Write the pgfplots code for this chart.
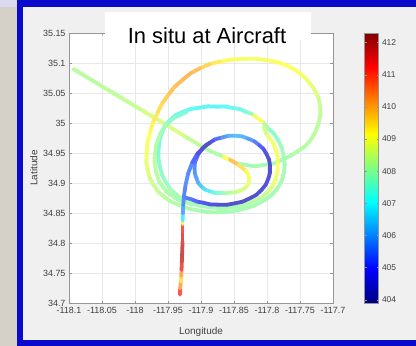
\documentclass[border=0pt]{standalone}
\usepackage{fontspec}
\setmainfont{Liberation Sans}
\usepackage{pgfplots}
\usepackage{pgfplotstable}
\pgfplotsset{compat=1.18}

\definecolor{frameblue}{RGB}{10,10,205}
\definecolor{panel}{RGB}{240,240,240}
\definecolor{stone}{RGB}{214,209,200}
\definecolor{ticktext}{RGB}{64,64,64}
\definecolor{axisgray}{RGB}{150,150,150}

% a paler jet, used for the track itself
\pgfplotsset{colormap={lightjet}{rgb255(0cm)=(80,80,170) rgb255(1cm)=(85,85,255)
  rgb255(3cm)=(95,250,250) rgb255(5cm)=(255,255,95) rgb255(7cm)=(255,80,80)
  rgb255(8cm)=(170,80,80)}}
\pgfplotsset{track/.style={mesh, colormap name=lightjet, point meta=explicit,
  line width=3.8pt, line cap=round}}

% flight track: longitude, latitude, in situ CO2 (ppm)
\pgfplotstableread{
lon lat v
-118.0934 35.0900 408.2
-118.0581 35.0667 408.3
-118.0228 35.0433 408.3
-117.9875 35.0200 408.5
-117.9522 34.9967 408.8
-117.9219 34.9761 408.5
-117.8916 34.9561 408.2
-117.8664 34.9439 408.0
-117.8462 34.9328 408.0
-117.8185 34.9278 408.0
-117.7882 34.9328 408.0
-117.7630 34.9461 408.1
-117.7428 34.9606 408.2
-117.7337 34.9717 408.2
-117.7277 34.9828 408.3
-117.7221 34.9983 408.3
-117.7191 35.0133 408.3
-117.7196 35.0289 408.4
-117.7226 35.0439 408.6
-117.7302 35.0594 408.8
-117.7403 35.0733 409.0
-117.7534 35.0856 409.1
-117.7680 35.0950 409.2
-117.7842 35.1014 409.1
-117.8008 35.1050 409.1
-117.8185 35.1072 409.0
-117.8361 35.1067 409.0
-117.8538 35.1058 409.1
-117.8714 35.1022 409.3
-117.8871 35.0981 409.5
-117.9017 35.0911 409.8
-117.9153 35.0831 410.0
-117.9269 35.0728 410.0
-117.9396 35.0608 409.9
-117.9496 35.0467 409.8
-117.9592 35.0322 409.6
-117.9663 35.0161 409.5
-117.9731 35.0000 409.3
-117.9774 34.9828 409.2
-117.9812 34.9661 409.1
-117.9824 34.9494 409.0
-117.9827 34.9353 408.9
-117.9809 34.9217 408.8
-117.9776 34.9089 408.6
-117.9724 34.8978 408.5
-117.9658 34.8867 408.4
-117.9572 34.8783 408.3
-117.9466 34.8697 408.2
-117.9345 34.8639 408.2
-117.9184 34.8572 408.1
-117.9017 34.8539 408.0
-117.8856 34.8511 408.0
-117.8689 34.8517 408.0
-117.8523 34.8525 408.0
-117.8361 34.8567 408.0
-117.8205 34.8617 408.0
-117.8058 34.8700 408.0
-117.7942 34.8789 408.0
-117.7847 34.8900 408.0
-117.7781 34.9022 408.0
-117.7746 34.9161 408.0
-117.7731 34.9300 408.0
-117.7746 34.9439 408.0
-117.7776 34.9589 407.9
-117.7832 34.9717 407.8
-117.7897 34.9828 407.7
-117.7983 34.9911 407.6
-117.8064 35.0017 408.5
-117.8159 35.0094 409.8
-117.8230 35.0153 408.0
-117.8311 35.0183 407.5
-117.8412 35.0231 407.3
-117.8513 35.0250 407.2
-117.8639 35.0275 407.1
-117.8765 35.0272 407.0
-117.8891 35.0278 407.0
-117.9017 35.0256 407.0
-117.9148 35.0236 407.1
-117.9269 35.0189 407.2
-117.9380 35.0133 407.2
-117.9471 35.0050 407.3
-117.9547 34.9947 407.3
-117.9597 34.9828 407.3
-117.9633 34.9692 407.3
-117.9643 34.9550 407.4
-117.9645 34.9411 407.5
-117.9623 34.9272 407.6
-117.9592 34.9142 407.7
-117.9537 34.9022 407.8
-117.9476 34.8911 407.9
-117.9396 34.8828 408.0
-117.9290 34.8739 408.0
-117.9169 34.8678 408.0
-117.9020 34.8622 408.0
-117.8866 34.8594 408.0
-117.8689 34.8581 408.0
-117.8513 34.8594 408.0
-117.8356 34.8628 408.1
-117.8210 34.8689 408.2
-117.8089 34.8758 408.3
-117.7983 34.8856 408.5
-117.7912 34.8958 408.8
-117.7867 34.9078 409.0
-117.7839 34.9203 409.0
-117.7837 34.9328 409.0
-117.7839 34.9444 409.0
-117.7867 34.9550 409.0
-117.7902 34.9656 409.0
-117.7958 34.9744 409.0
-117.8013 34.9822 408.8
-117.8048 34.9939 408.3
}\trackouter

% middle ring on the western side
\pgfplotstableread{
lon lat v
-117.9219 35.0183 407.4
-117.9396 35.0094 407.6
-117.9522 34.9983 407.8
-117.9613 34.9828 408.0
-117.9683 34.9617 408.2
-117.9703 34.9411 408.3
-117.9688 34.9206 408.3
-117.9633 34.9022 408.2
-117.9522 34.8856 408.1
-117.9360 34.8728 408.0
-117.9158 34.8650 408.0
-117.8957 34.8617 408.0
}\trackmiddle

\pgfplotstableread{
lon lat v
-117.8664 34.9439 408.3
-117.8563 34.9389 410.0
-117.8437 34.9306 409.7
-117.8321 34.9206 409.3
-117.8286 34.9139 409.1
-117.8270 34.9078 409.0
-117.8276 34.9006 408.9
-117.8301 34.8950 408.8
-117.8346 34.8906 408.7
-117.8412 34.8872 408.6
-117.8482 34.8844 408.5
-117.8563 34.8839 408.3
-117.8639 34.8828 408.0
-117.8714 34.8839 407.8
-117.8795 34.8839 407.4
-117.8866 34.8861 407.0
-117.8936 34.8889 406.8
-117.8992 34.8939 406.5
-117.9042 34.9000 406.2
-117.9068 34.9078 406.0
-117.9093 34.9161 405.8
-117.9098 34.9244 405.7
-117.9093 34.9333 405.5
-117.9068 34.9411 405.3
-117.9037 34.9489 404.9
-117.8992 34.9550 404.5
-117.8936 34.9622 404.5
-117.8866 34.9672 404.6
-117.8785 34.9728 405.0
-117.8689 34.9756 405.6
-117.8588 34.9786 406.0
-117.8487 34.9789 406.3
-117.8381 34.9778 406.3
-117.8286 34.9739 406.0
-117.8195 34.9697 405.7
-117.8119 34.9633 405.3
-117.8053 34.9567 404.9
-117.8008 34.9483 404.6
-117.7968 34.9389 404.4
-117.7953 34.9283 404.3
-117.7953 34.9178 404.4
-117.7978 34.9078 404.5
-117.8018 34.8972 404.5
-117.8084 34.8883 404.5
-117.8164 34.8800 404.4
-117.8260 34.8744 404.3
-117.8371 34.8689 404.3
-117.8487 34.8661 404.3
-117.8614 34.8636 404.3
-117.8740 34.8639 404.4
-117.8856 34.8642 404.6
-117.8967 34.8672 404.8
-117.9058 34.8689 405.0
-117.9143 34.8728 405.3
-117.9254 34.8761 405.5
}\trackloop

\pgfplotstableread{
lon lat v
-117.9320 34.7139 411.6
-117.9315 34.7244 410.8
-117.9305 34.7356 409.6
-117.9300 34.7450 409.4
-117.9295 34.7550 411.0
-117.9290 34.7689 411.8
-117.9285 34.7856 412.0
-117.9279 34.8022 411.8
-117.9279 34.8189 411.5
-117.9279 34.8317 411.0
-117.9279 34.8372 407.5
-117.9274 34.8494 406.2
-117.9269 34.8633 405.8
-117.9259 34.8772 405.5
-117.9234 34.8967 405.6
-117.9194 34.9161 405.8
-117.9133 34.9339 405.5
-117.9058 34.9483 404.8
-117.8967 34.9589 404.2
-117.8866 34.9672 404.5
}\trackstem

\begin{document}
\begin{tikzpicture}[x=1bp,y=1bp]
\useasboundingbox (0,0) rectangle (416,346);
% slide background and frame
\fill[stone] (0,0) rectangle (17,346);
\fill[stone!60!frameblue!30] (0,339) rectangle (17,346);
\fill[panel] (17,0) rectangle (416,346);
\fill[frameblue] (17,339) rectangle (416,346);
\fill[frameblue] (17,0) rectangle (23,346);
\fill[frameblue] (17,0) rectangle (416,6);

\begin{axis}[
  at={(69bp,43bp)}, anchor=south west,
  scale only axis, width=264bp, height=270bp,
  xmin=-118.1, xmax=-117.7, ymin=34.7, ymax=35.15,
  xtick={-118.1,-118.05,...,-117.69},
  ytick={34.7,34.75,...,35.16},
  /pgf/number format/.cd, fixed, precision=2, 1000 sep={}, assume math mode=true,
  /pgfplots/.cd,
  tick label style={font=\fontsize{9}{10}\selectfont, text=ticktext},
  xticklabel style={yshift=-1bp},
  grid=major,
  major grid style={gray!18, line width=0.5bp},
  axis line style={axisgray, line width=0.5bp},
  tick style={axisgray, line width=0.5bp},
  tick align=inside, major tick length=2.5bp,
  axis background/.style={fill=white},
  xlabel={Longitude}, ylabel={Latitude},
  label style={font=\fontsize{10}{12}\selectfont, text=ticktext},
  xlabel style={at={(axis description cs:0.5,-0.107)}, anchor=center},
  ylabel style={at={(axis description cs:-0.133,0.5)}, anchor=center},
  colormap/jet,
  point meta min=403.9, point meta max=412.3,
  colorbar,
  colorbar style={
    width=14bp,
    at={(parent axis.north east)}, anchor=north west, xshift=23bp,
    ytick={404,405,...,412},
    yticklabel style={font=\fontsize{8.5}{10}\selectfont, text=ticktext},
    /pgf/number format/assume math mode=true,
    axis line style={axisgray, line width=0.4bp},
    tick style={axisgray, line width=0.4bp},
    major tick length=2bp,
  },
]
\addplot[track] table[x=lon, y=lat, meta=v] {\trackouter};
\addplot[track] table[x=lon, y=lat, meta=v] {\trackmiddle};
\addplot[track] table[x=lon, y=lat, meta=v] {\trackloop};
\addplot[track] table[x=lon, y=lat, meta=v] {\trackstem};
\end{axis}

% title plate
\fill[white] (105,306) rectangle (311,334);
\node[anchor=base, inner sep=0pt] at (207,303) {\fontsize{22}{26}\selectfont In situ at Aircraft};
\end{tikzpicture}
\end{document}
